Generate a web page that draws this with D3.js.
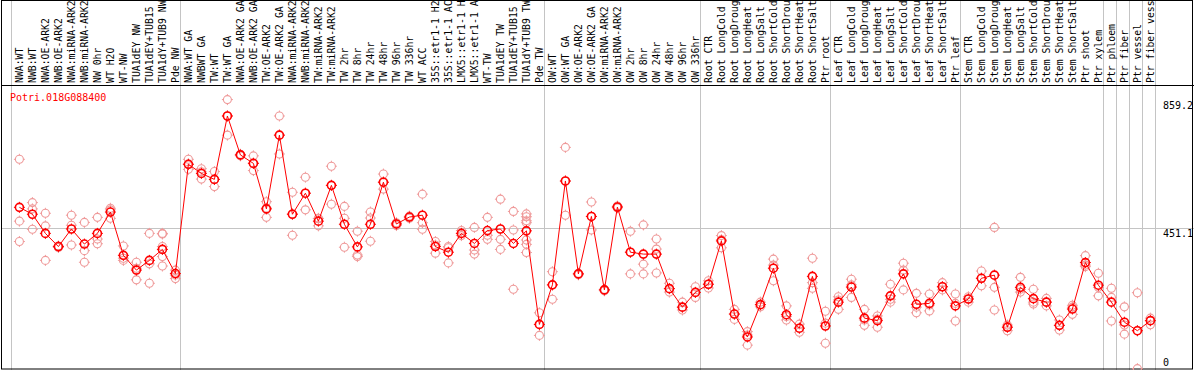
<!DOCTYPE html>
<html><head><meta charset="utf-8">
<script src="https://cdn.jsdelivr.net/npm/d3@7"></script>
<style>html,body{margin:0;padding:0;background:#fff;overflow:hidden}</style>
</head><body>
<svg id="c" width="1194" height="370"></svg>
<script>
const title = "Potri.018G088400";
const categories = [
"NWA:WT","NWB:WT","NWA:OE-ARK2","NWB:OE-ARK2","NWA:miRNA-ARK2","NWB:miRNA-ARK2","NW 0hr","WT H2O","WT-NW","TUA1dEY NW","TUA1dEY+TUB15 NW","TUA1dY+TUB9 NW","Pde NW",
"NWA:WT GA","NWBWT GA","TW:WT","TW:WT GA","NWA:OE-ARK2 GA","NWB:OE-ARK2 GA","TW:OE-ARK2","TW:OE-ARK2 GA","NWA:miRNA-ARK2 GA","NWB:miRNA-ARK2 GA","TW:miRNA-ARK2","TW:miRNA-ARK2 GA",
"TW 2hr","TW 8hr","TW 24hr","TW 48hr","TW 96hr","TW 336hr","WT ACC","35S::etr1-1 H2O","35S::etr1-1 ACC","LMX5::etr1-1 H2O","LMX5::etr1-1 ACC","WT-TW","TUA1dEY TW","TUA1dEY+TUB15 TW","TUA1dY+TUB9 TW","Pde TW",
"OW:WT","OW:WT GA","OW:OE-ARK2","OW:OE-ARK2 GA","OW:miRNA-ARK2","OW:miRNA-ARK2 GA","OW 2hr","OW 8hr","OW 24hr","OW 48hr","OW 96hr","OW 336hr",
"Root CTR","Root LongCold","Root LongDrought","Root LongHeat","Root LongSalt","Root ShortCold","Root ShortDrought","Root ShortHeat","Root ShortSalt","Ptr root",
"Leaf CTR","Leaf LongCold","Leaf LongDrought","Leaf LongHeat","Leaf LongSalt","Leaf ShortCold","Leaf ShortDrought","Leaf ShortHeat","Leaf ShortSalt","Ptr leaf",
"Stem CTR","Stem LongCold","Stem LongDrought","Stem LongHeat","Stem LongSalt","Stem ShortCold","Stem ShortDrought","Stem ShortHeat","Stem ShortSalt","Ptr shoot","Ptr xylem",
"Ptr phloem","Ptr fiber","Ptr vessel","Ptr fiber vessel"];

const means = [
516,494,433,391,447,399,433,501,363,316,347,382,305,
653,624,605,807,683,656,511,746,494,561,472,586,
462,390,462,596,463,485,491,391,373,433,401,442,447,401,441,143,
269,600,304,487,253,517,373,367,367,257,198,245,
271,409,176,103,206,322,174,131,296,138,
214,262,163,155,234,304,207,210,263,202,
224,290,300,134,261,225,214,140,192,340,268,
214,150,123,155];

const replicates = [
[669,472,407],[531,511,446],[497,457,347],[388,391,393],[491,459,396],[468,378,341],[484,415,400],[513,508,481],[393,354,347],[341,322,285],[433,336,274],[433,431,391,359,329],[316,300,289],
[669,654,637],[639,629,606],[630,605,582],[859.2,807,746],[680,683,685],[680,657,633],[534,514,484],[807,746,686],[564,495,427],[612,561,508],[481,480,457],[647,586,526],
[519,481,389],[440,364,359],[501,482,408],[622,596,574],[467,463,458],[488,485,481],[558,467,446],[407,396,370],[391,387,339],[442,433,426],[452,380,367],[484,427,414],[542,414,382],[503,444,255],[495,486,473,467,412,398,372],[180,143,108],
[311,269,223],[707,599,491],[301,304,306],[533,487,444],[250,253,255],[514,517,520],[440,373,304],[460,335,304],[415,383,307],[274,257,246],[214,198,189],[263,245,229],
[282,271,259],[426,413,387],[191,176,159],[120,109,77],[214,206,199],[351,332,282],[202,168,157],[144,131,118],[354,276,258],[185,147,83],
[231,221,191],[287,269,229],[191,157,140],[170,160,134],[271,223,214],[338,316,253],[242,198,180],[240,205,186],[276,263,253],[240,210,154],
[231,224,214],[313,290,266],[452,261,189],[141,135,123],[293,255,246],[255,214,208],[226,214,202],[157,140,125],[204,198,175],[362,332,327],[306,261,234],
[258,229,154],[199,141,112],[244,123,2],[163,155,142]];

const groupEnds = [12, 40, 52, 62, 72, 83, 84, 85, 86, 87];
const yTicks = [0, 451.1, 859.2];
const gridTick = 451.1;

const W = 1194, H = 370;
const svg = d3.select("#c");
const font = "'DejaVu Sans Mono', monospace";

const x = d3.scalePoint().domain(d3.range(categories.length)).range([19.4, 1150.4]);
const y = d3.scaleLinear().domain([0, 859.2]).range([369.3, 99.6]);
const step = x.step();

// vertical grid lines (full height)
const sepX = [x(0) - step + 4.6].concat(groupEnds.map(i => x(i) + 4.6));
svg.append("g").selectAll("line").data(sepX).join("line")
  .attr("x1", d => Math.round(d) + 0.5).attr("x2", d => Math.round(d) + 0.5)
  .attr("y1", 0).attr("y2", H)
  .attr("stroke", "#c4c4c4").attr("stroke-width", 1);

// horizontal grid at middle tick
svg.append("line")
  .attr("x1", 1).attr("x2", W)
  .attr("y1", Math.round(y(gridTick)) + 0.5).attr("y2", Math.round(y(gridTick)) + 0.5)
  .attr("stroke", "#c4c4c4").attr("stroke-width", 1);

// borders
svg.append("rect").attr("x", 1.5).attr("y", 0.5).attr("width", 1191).attr("height", 368.5)
  .attr("fill", "none").attr("stroke", "#000").attr("stroke-width", 1);
svg.append("line").attr("x1", 1).attr("x2", W).attr("y1", 85.5).attr("y2", 85.5)
  .attr("stroke", "#000").attr("stroke-width", 1);

// category labels
svg.append("g").selectAll("text").data(categories).join("text")
  .attr("transform", (d, i) => `translate(${x(i) + 3.2},83) rotate(-90)`)
  .attr("font-family", font).attr("font-size", "9.8px").attr("fill", "#000")
  .text(d => d);

// y axis labels
svg.append("g").selectAll("text").data(yTicks).join("text")
  .attr("x", 1163)
  .attr("y", d => d === 0 ? 366 : y(d) + 9)
  .attr("font-family", font).attr("font-size", "10px").attr("fill", "#000")
  .text(d => d === 0 ? "0" : d3.format(".1f")(d));

// title
svg.append("text").attr("x", 10).attr("y", 100.5)
  .attr("font-family", font).attr("font-size", "10px").attr("fill", "#ff0000")
  .text(title);

function marker(g, cx, cy, color, sw) {
  g.append("circle").attr("cx", cx).attr("cy", cy).attr("r", 4)
    .attr("fill", "none").attr("stroke", color).attr("stroke-width", sw);
  [[0,-1],[0,1],[-1,0],[1,0]].forEach(([dx, dy]) => {
    g.append("line")
      .attr("x1", cx + dx * 4).attr("y1", cy + dy * 4)
      .attr("x2", cx + dx * 5.5).attr("y2", cy + dy * 5.5)
      .attr("stroke", color).attr("stroke-width", 1);
  });
}

// replicates
const rg = svg.append("g");
replicates.forEach((arr, i) => arr.forEach(v => marker(rg, x(i), y(v), "#ef9a9a", 1.1)));

// mean line
svg.append("path").datum(means)
  .attr("d", d3.line().x((d, i) => x(i)).y(d => y(d)))
  .attr("fill", "none").attr("stroke", "#ff0000").attr("stroke-width", 1);

// means
const mg = svg.append("g");
means.forEach((v, i) => marker(mg, x(i), y(v), "#ff0000", 1.6));
</script>
</body></html>
